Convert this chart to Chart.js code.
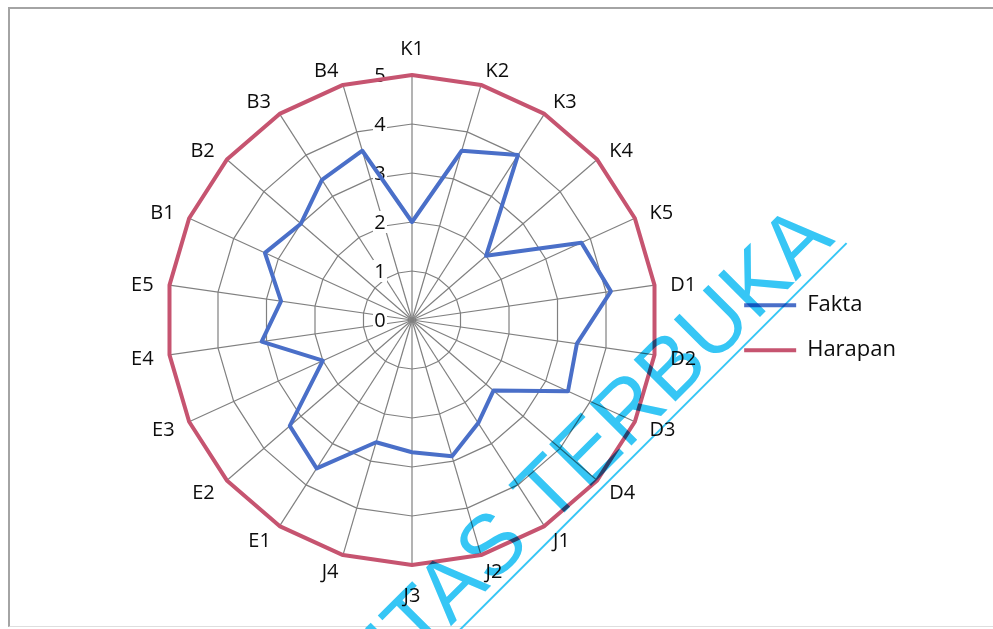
<!DOCTYPE html>
<html>
<head>
<meta charset="utf-8">
<script src="https://cdn.jsdelivr.net/npm/chart.js@4/dist/chart.umd.min.js"></script>
<style>
  html, body { margin: 0; padding: 0; background: #fff; }
  #wrap { position: relative; width: 993px; height: 629px; overflow: hidden; background: #fff; }
  #frame {
    position: absolute; left: 8px; top: 7px; width: 1100px; height: 617px;
    border-top: 2px solid #a4a4a4; border-left: 2px solid #a4a4a4; border-bottom: 1px solid #dedede;
  }
  canvas { position: absolute; left: 0; top: 0; }
</style>
</head>
<body>
<div id="wrap">
  <div id="frame"></div>
  <canvas id="radar" width="993" height="629"></canvas>
</div>
<script>
// Indicator codes around the web, clockwise from the top
const categories = ['K1', 'K2', 'K3', 'K4', 'K5', 'D1', 'D2', 'D3', 'D4', 'J1', 'J2',
                    'J3', 'J4', 'E1', 'E2', 'E3', 'E4', 'E5', 'B1', 'B2', 'B3', 'B4'];

// Actual scores (Fakta) and expected scores (Harapan)
const fakta   = [2.0, 3.6, 4.0, 2.0, 3.8, 4.1, 3.4, 3.5, 2.2, 2.5, 2.9,
                 2.7, 2.6, 3.6, 3.3, 2.0, 3.1, 2.7, 3.3, 3.0, 3.4, 3.6];
const harapan = [5, 5, 5, 5, 5, 5, 5, 5, 5, 5, 5,
                 5, 5, 5, 5, 5, 5, 5, 5, 5, 5, 5];

// Value axis labels
const tickValues = [0, 1, 2, 3, 4, 5];

const FONT = '"Open Sans", "Noto Sans", sans-serif';
const TEXT = '#0d0d0d';
const LABEL_GAP = 16;

// Value labels sit left of the vertical spoke on a white backdrop, and the
// category names sit just outside the outer ring: to the side of it, or
// above/below it for the spokes that point straight up or down.
const webLabelPlugin = {
  id: 'webLabels',
  beforeDatasetsDraw(chart) {
    const s = chart.scales.r;
    const ctx = chart.ctx;
    ctx.save();
    ctx.font = '20px ' + FONT;
    ctx.textBaseline = 'middle';

    ctx.textAlign = 'center';
    tickValues.forEach(v => {
      const y = s.yCenter - s.getDistanceFromCenterForValue(v);
      const x = s.xCenter - 32;
      ctx.fillStyle = '#ffffff';
      ctx.fillRect(x - 7, y - 11, 14, 22);
      ctx.fillStyle = TEXT;
      ctx.fillText(String(v), x, y + 1);
    });

    ctx.fillStyle = TEXT;
    categories.forEach((name, i) => {
      const p = s.getPointPosition(i, s.drawingArea + LABEL_GAP);
      const deg = (((p.angle + Math.PI / 2) * 180 / Math.PI) % 360 + 360) % 360;
      let align = deg < 180 ? 'left' : 'right';
      let dy = 2;
      if (deg < 0.5 || deg > 359.5) { align = 'center'; dy = -10; }
      else if (Math.abs(deg - 180) < 0.5) { align = 'center'; dy = 15; }
      ctx.textAlign = align;
      ctx.fillText(name, p.x, p.y + dy);
    });
    ctx.restore();
  }
};

// Diagonal institution stamp printed over the chart
const stampPlugin = {
  id: 'stamp',
  afterDraw(chart) {
    const ctx = chart.ctx;
    ctx.save();
    ctx.globalCompositeOperation = 'multiply';
    ctx.translate(836, 241);
    ctx.rotate(-Math.PI / 4);
    ctx.font = '86px "Liberation Sans", Arial, sans-serif';
    ctx.textAlign = 'right';
    ctx.textBaseline = 'alphabetic';
    ctx.fillStyle = '#36C6F5';
    const label = 'UNIVERSITAS TERBUKA';
    ctx.fillText(label, 0, 0);
    const w = ctx.measureText(label).width;
    ctx.fillRect(-w, 8, w + 6, 2);
    ctx.restore();
  }
};

new Chart(document.getElementById('radar'), {
  type: 'radar',
  data: {
    labels: categories,
    datasets: [
      {
        label: 'Fakta',
        data: fakta,
        borderColor: '#4A6FC8',
        backgroundColor: 'rgba(0,0,0,0)',
        borderWidth: 4,
        fill: false,
        pointRadius: 0,
        pointHoverRadius: 0,
        borderJoinStyle: 'round',
        tension: 0
      },
      {
        label: 'Harapan',
        data: harapan,
        borderColor: '#C65470',
        backgroundColor: 'rgba(0,0,0,0)',
        borderWidth: 4,
        fill: false,
        pointRadius: 0,
        pointHoverRadius: 0,
        borderJoinStyle: 'round',
        tension: 0
      }
    ]
  },
  options: {
    responsive: false,
    animation: false,
    events: [],
    layout: { padding: { top: 75, bottom: 63, left: 103, right: 87 } },
    scales: {
      r: {
        min: 0,
        max: 5,
        ticks: { stepSize: 1, display: false },
        grid: { color: '#808080', lineWidth: 1.2 },
        angleLines: { color: '#808080', lineWidth: 1.2 },
        pointLabels: { display: false }
      }
    },
    plugins: {
      tooltip: { enabled: false },
      legend: {
        position: 'right',
        align: 'center',
        title: { display: true, text: '', padding: 0, font: { size: 12 } },
        labels: {
          usePointStyle: true,
          pointStyle: 'line',
          pointStyleWidth: 52,
          padding: 23,
          color: TEXT,
          font: { family: FONT, size: 22 }
        }
      }
    }
  },
  plugins: [webLabelPlugin, stampPlugin]
});
</script>
</body>
</html>
